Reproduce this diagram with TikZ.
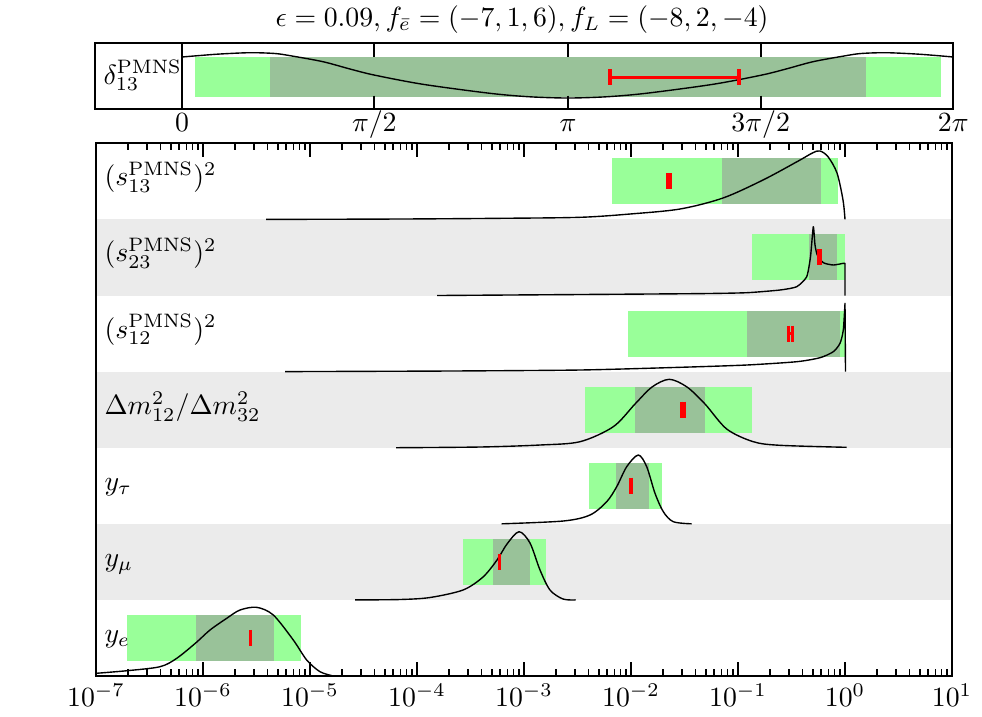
\documentclass[tikz,border=0pt]{standalone}
\definecolor{lgreen}{RGB}{153,255,153}
\definecolor{dgreen}{RGB}{153,194,153}
\definecolor{bandgray}{RGB}{235,235,235}
\newcommand\errmark[3]{\draw[errbar] (#1,#3-8)--(#1,#3+8) (#2,#3-8)--(#2,#3+8) (#1,#3)--(#2,#3);}
\begin{document}
\begin{tikzpicture}[x=0.36pt,y=-0.36pt,
  frame/.style={line width=0.6pt},
  curve/.style={line width=0.5pt,line join=round},
  errbar/.style={red,line width=1.2pt},
  lbl/.style={inner sep=0pt,anchor=base west},
  ticklbl/.style={inner sep=0pt,anchor=base}]
\useasboundingbox (0,0) rectangle (982,716);
% ---------- title ----------
\node[ticklbl] (title) at (522,26.5) {$\epsilon = 0.09, f_{\bar e} = (-7,1,6), f_L = (-8,2,-4)$};
% ---------- top panel ----------
\fill[lgreen] (195,57.3) rectangle (940.7,96.7);
\fill[dgreen] (270,57.3) rectangle (865.7,96.7);
\draw[curve] plot[smooth,tension=0.5] coordinates {(182,57) (200,55.5) (220,54) (250,52.7) (275,53.5) (292,56) (323,61.7) (350,69) (374,75) (423,84.3) (490,93.3) (530,96.8) (568,98) (606,96.8) (646,93.3) (713,84.3) (762,75) (786,69) (813,61.7) (844,56) (861,53.5) (886,52.7) (916,54) (936,55.5) (953.3,57)};
\errmark{610}{739}{77.3}
\draw[frame] (95,43.3) rectangle (953.3,109);
\draw[frame] (182,43.3) -- (182,109);
\foreach \x in {374.3,568,760.7}{
  \draw[frame] (\x,43.3) -- (\x,56.7) (\x,95.7) -- (\x,109);
}
\node[lbl] (dlab) at (103,84) {$\delta_{13}^{\rm PMNS}$};
\node[ticklbl] (t0) at (182,131) {$0$};
\node[ticklbl] (t1) at (374.3,131) {$\pi/2$};
\node[ticklbl] (t2) at (568,131) {$\pi$};
\node[ticklbl] (t3) at (760.7,131) {$3\pi/2$};
\node[ticklbl] (t4) at (953.3,131) {$2\pi$};
% ---------- main panel bands ----------
\fill[bandgray] (96,219.4) rectangle (952,295.5);
\fill[bandgray] (96,371.6) rectangle (952,447.7);
\fill[bandgray] (96,523.8) rectangle (952,599.9);
% boxes: row tops 143.3 219.4 295.5 371.6 447.7 523.8 599.9
\fill[lgreen] (612.3,158.3) rectangle (838.3,204.3);
\fill[dgreen] (722.3,158.3) rectangle (821,204.3);
\fill[lgreen] (751.7,234.4) rectangle (845,280.4);
\fill[dgreen] (808.7,234.4) rectangle (837.3,280.4);
\fill[lgreen] (628.3,310.5) rectangle (845.7,356.5);
\fill[dgreen] (746.7,310.5) rectangle (840,356.5);
\fill[lgreen] (585,386.6) rectangle (752.3,432.6);
\fill[dgreen] (635,386.6) rectangle (705,432.6);
\fill[lgreen] (589.3,462.7) rectangle (662.3,508.7);
\fill[dgreen] (616,462.7) rectangle (649,508.7);
\fill[lgreen] (463.3,538.8) rectangle (545.7,584.8);
\fill[dgreen] (493.3,538.8) rectangle (530,584.8);
\fill[lgreen] (127.3,614.9) rectangle (300.7,660.9);
\fill[dgreen] (196,614.9) rectangle (274.3,660.9);
% curves
\draw[curve] plot[smooth,tension=0.5] coordinates {(266,219.4) (400,219) (500,218.3) (580,217.3) (630,214) (680,209) (723,198) (763,180) (797,161.7) (813,152.7) (820,151) (828,156.7) (837,173) (843,200) (845,219.4)};
\draw[curve] plot[smooth,tension=0.35] coordinates {(437,295.5) (580,294.5) (700,293.6) (746.7,292.7) (780,290) (796.7,286.7) (806.7,276.7) (810.5,256.7) (813.3,226.7) (815,245) (817.3,255) (823.3,262.7) (833.3,265) (843.3,263.3) (845,263.3)} -- (845,295.5);
\draw[curve] plot[smooth,tension=0.4] coordinates {(285,371.6) (450,371) (580,370) (680,367.3) (746.7,365) (796.7,361.7) (820,357.7) (833.3,351.7) (840,343.3) (843.3,330) (845,303.3)} -- (845.5,371.6);
\draw[curve] plot[smooth,tension=0.5] coordinates {(396,447.7) (480,447) (540,445) (580,441.7) (613.3,426.7) (635,404) (652,387) (669.3,379.3) (687,387) (705,404) (726.7,429) (753.3,441.7) (780,445.3) (846.7,447.3)};
\draw[curve] plot[smooth,tension=0.5] coordinates {(501.7,523.8) (563.3,521) (590,515) (606.7,501.7) (616.7,486.7) (626.7,466.7) (638.3,455) (646.7,466.7) (655,493.3) (663.3,511.7) (673.3,521.7) (691.7,523.8)};
\draw[curve] plot[smooth,tension=0.5] coordinates {(355,599.9) (400,599.5) (430,597.5) (463,590) (483,577) (497,560) (507,544) (519,531.7) (530,543) (540,570) (550,590) (563,599) (575.7,599.9)};
\draw[curve] plot[smooth,tension=0.5] coordinates {(96,673.3) (127,670.7) (160,666.7) (176.7,658.3) (196,642.7) (210,630) (226.7,618.3) (240,610) (256.7,607.3) (273.3,615) (293.3,640) (306.7,660) (320,671.7) (333.3,676)};
% error marks
\errmark{667.7}{670.3}{181.3}
\errmark{818.7}{820.7}{257.4}
\errmark{788.3}{792.7}{333.5}
\errmark{681.7}{684.3}{409.6}
\errmark{631}{631}{485.7}
\errmark{499.3}{499.3}{561.8}
\errmark{250.3}{250.3}{637.9}
% frame and ticks
\draw[frame] (96,143.3) rectangle (952,676);
\foreach \k in {0,...,8}{
  \draw[frame] ({96+107*\k},676) -- ({96+107*\k},662);
  \draw[frame] ({96+107*\k},143.3) -- ({96+107*\k},156.5);
}
\foreach \k in {0,...,7}{
  \foreach \m in {2,...,9}{
    \draw[frame] ({96+107*(\k+log10(\m))},676) -- ({96+107*(\k+log10(\m))},669);
    \draw[frame] ({96+107*(\k+log10(\m))},143.3) -- ({96+107*(\k+log10(\m))},150.3);
  }
}
% row labels
\node[lbl] (l1) at (104,185.5) {$(s_{13}^{\rm PMNS})^2$};
\node[lbl] (l2) at (104,261.8) {$(s_{23}^{\rm PMNS})^2$};
\node[lbl] (l3) at (104,338) {$(s_{12}^{\rm PMNS})^2$};
\node[lbl] (l4) at (104,414.5) {$\Delta m_{12}^2/\Delta m_{32}^2$};
\node[lbl] (l5) at (104,490.2) {$y_\tau$};
\node[lbl] (l6) at (104,566.5) {$y_\mu$};
\node[lbl] (l7) at (104,642.5) {$y_e$};
% x labels
\node[ticklbl] (x0) at (96,706.5) {$10^{-7}$};
\node[ticklbl] (x1) at (203,706.5) {$10^{-6}$};
\node[ticklbl] (x2) at (310,706.5) {$10^{-5}$};
\node[ticklbl] (x3) at (417,706.5) {$10^{-4}$};
\node[ticklbl] (x4) at (524,706.5) {$10^{-3}$};
\node[ticklbl] (x5) at (631,706.5) {$10^{-2}$};
\node[ticklbl] (x6) at (738,706.5) {$10^{-1}$};
\node[ticklbl] (x7) at (845,706.5) {$10^{0}$};
\node[ticklbl] (x8) at (952,706.5) {$10^{1}$};
\end{tikzpicture}
\end{document}
